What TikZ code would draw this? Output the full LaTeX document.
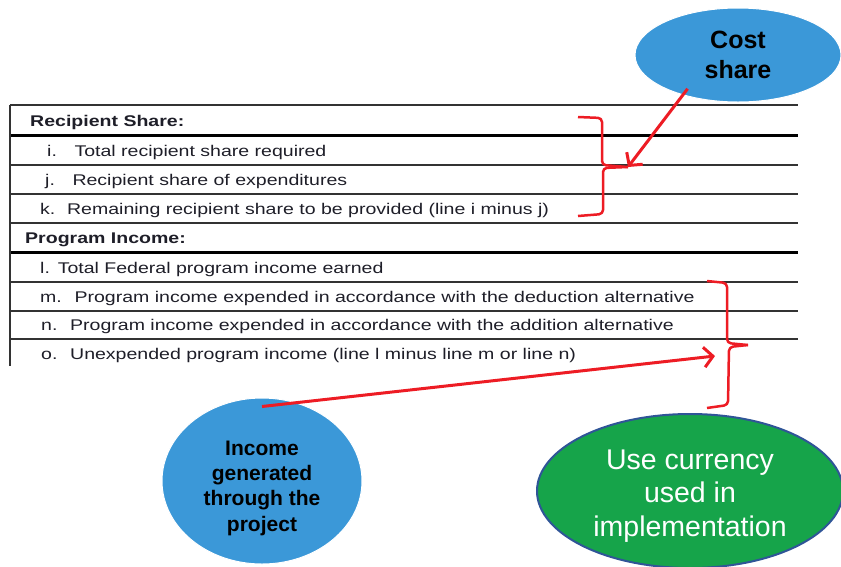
\documentclass[tikz,border=0pt]{standalone}
\usepackage{fontspec}
\setmainfont{Liberation Sans}
\usepackage{graphicx}
\usetikzlibrary{arrows.meta, shapes.geometric}
\definecolor{tabink}{RGB}{30,30,40}
\definecolor{bubbleblue}{RGB}{59,152,216}
\definecolor{bubblegreen}{RGB}{22,164,74}
\definecolor{greenrim}{RGB}{47,85,151}
\definecolor{markred}{RGB}{237,28,36}
\tikzset{>={Straight Barb[length=9pt,width=20pt]}}
\tikzset{rowline/.style={draw=black!80, line width=1.6pt}}
\tikzset{headline/.style={draw=black, line width=3pt}}
\tikzset{rowtext/.style={anchor=base west, inner sep=0pt, text=tabink,
    font=\fontsize{15.5}{17}\selectfont}}
\tikzset{bubble/.style={ellipse, inner sep=0pt, align=center,
    fill=bubbleblue, draw=white, line width=1pt}}
\tikzset{redarrow/.style={->, draw=markred, line width=3pt}}
\tikzset{bracket/.style={draw=markred, line width=2.5pt, rounded corners=4pt}}
\newcommand{\stretched}[1]{\scalebox{1.26}[1]{#1}}

\begin{document}
\begin{tikzpicture}[x=1pt, y=-1pt, line join=round]
\useasboundingbox (0,0) rectangle (841,566);
\clip (0,0) rectangle (841,566);

\draw[rowline] (10,105) -- (798,105);
\draw[headline] (10,135) -- (798,135);
\draw[headline] (10,252) -- (798,252);
\foreach \y in {165,194,223,282,311,339}
  \draw[rowline] (10,\y) -- (798,\y);
\draw[rowline] (10,105) -- (10,366);

\node[rowtext] (recip) at (30,126) {\stretched{\bfseries Recipient Share:}};
\node[rowtext] (rowi) at (47,156) {\stretched{i.\hspace{0.9em}Total recipient share required}};
\node[rowtext] (rowj) at (45,185) {\stretched{j.\hspace{0.9em}Recipient share of expenditures}};
\node[rowtext] (rowk) at (40,214) {\stretched{k.\hspace{0.6em}Remaining recipient share to be provided (line i minus j)}};
\node[rowtext] (prog) at (25,243) {\stretched{\bfseries Program Income:}};
\node[rowtext] (rowl) at (40,273) {\stretched{l.\hspace{0.4em}Total Federal program income earned}};
\node[rowtext] (rowm) at (40,302) {\stretched{m.\hspace{0.65em}Program income expended in accordance with the deduction alternative}};
\node[rowtext] (rown) at (41,330) {\stretched{n.\hspace{0.65em}Program income expended in accordance with the addition alternative}};
\node[rowtext] (rowo) at (41,359) {\stretched{o.\hspace{0.65em}Unexpended program income (line l minus line m or line n)}};

\node[bubble, minimum width=206pt, minimum height=94pt,
  font=\bfseries\fontsize{25}{30}\selectfont] (cost) at (738,55) {Cost\\share};
\node[bubble, minimum width=200pt, minimum height=166pt,
  label={[yshift=-7pt, align=center, font=\bfseries\fontsize{21}{25.3}\selectfont]center:{Income\\generated\\through the\\project}}]
  (income) at (262,481) {};
\node[ellipse, inner sep=0pt, fill=bubblegreen, draw=greenrim,
  line width=2pt, minimum width=306pt, minimum height=154pt,
  label={[yshift=-5pt, align=center, text=white, font=\fontsize{28.5}{33.5}\selectfont]center:{Use currency\\used in\\implementation}}]
  (currency) at (690,491) {};

\coordinate (shareTip) at (628,167);
\coordinate (incomeNub) at (748,345);
\coordinate (incomeTip) at (715,356);

\draw[bracket] (578,117) -- (602,118) -- (602,165) -- (shareTip);
\draw[bracket] (shareTip) -- (603,168) -- (603,214) -- (578,216);
\draw[bracket] (707,281) -- (727,283) -- (727,343) -- (incomeNub);
\draw[bracket] (incomeNub) -- (729,347) -- (728,405) -- (707,408);

\draw[redarrow, shorten <=-8pt] (cost.216) -- (shareTip);
\draw[redarrow] ([yshift=-9pt]income.north) -- (incomeTip);

\end{tikzpicture}
\end{document}
